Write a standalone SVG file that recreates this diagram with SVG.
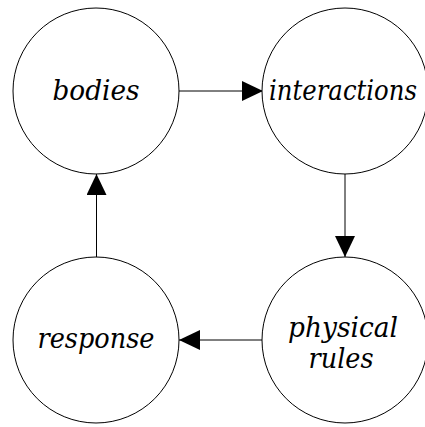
<svg xmlns="http://www.w3.org/2000/svg" width="425" height="427" viewBox="0 0 425 427">
<style>
.node circle{fill:#fff;stroke:#000;stroke-width:1}
.node text{font-family:'DejaVu Serif','Liberation Serif',serif;font-style:italic;font-size:27px;text-anchor:middle;fill:#000}
.edge{stroke:#000;stroke-width:1;fill:none;marker-end:url(#ah)}
</style>
<defs>
<marker id="ah" markerWidth="21" markerHeight="20" refX="21" refY="10" orient="auto" markerUnits="userSpaceOnUse">
<path d="M0,0 L21,10 L0,20 Z" fill="#000"/>
</marker>
</defs>
<rect width="425" height="427" fill="#fff"/>
<g id="connectors">
<line class="edge" x1="179" y1="91" x2="263" y2="91"/>
<line class="edge" x1="345" y1="174" x2="345" y2="257"/>
<line class="edge" x1="262" y1="340" x2="179" y2="340"/>
<line class="edge" x1="96.5" y1="257" x2="96.5" y2="174"/>
</g>
<g id="bodies" class="node"><circle cx="96" cy="91" r="83"/><text x="96" y="100" textLength="87" lengthAdjust="spacingAndGlyphs">bodies</text></g>
<g id="interactions" class="node"><circle cx="345" cy="91" r="83"/><text x="343" y="100" textLength="148" lengthAdjust="spacingAndGlyphs">interactions</text></g>
<g id="physical-rules" class="node"><circle cx="345" cy="340" r="83"/><text x="343" y="337" textLength="110" lengthAdjust="spacingAndGlyphs">physical</text><text x="341" y="368" textLength="65" lengthAdjust="spacingAndGlyphs">rules</text></g>
<g id="response" class="node"><circle cx="96" cy="340" r="83"/><text x="96" y="348" textLength="117" lengthAdjust="spacingAndGlyphs">response</text></g>
</svg>
